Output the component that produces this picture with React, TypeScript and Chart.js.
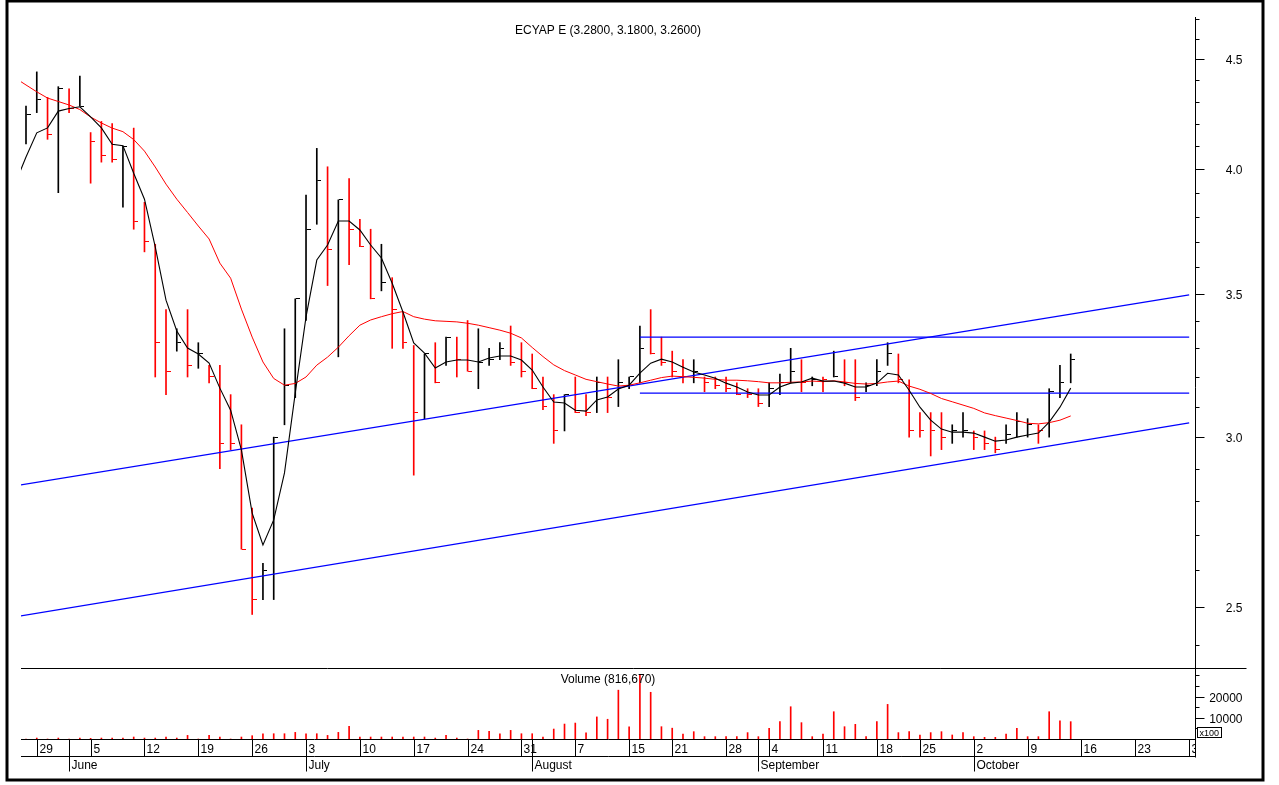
import React, { useEffect, useRef } from 'react';
import { Chart, registerables } from 'chart.js';

Chart.register(...registerables);

// ---------- data (trading-day index 0 = Fri 26 May 2006) ----------
const highs = [
  4.28, 4.44, 4.32, 4.37, 4.36, 4.42, 4.16, 4.21, 4.20, 4.10,
  4.18, 3.86, 3.69, 3.44, 3.37, 3.44, 3.32, 3.24, 3.24, 3.14,
  3.04, 2.78, 2.62, 3.00, 3.37, 3.48, 3.89, 4.09, 4.01, 3.87,
  3.96, 3.79, 3.75, 3.69, 3.56, 3.43, 3.31, 3.28, 3.32, 3.34,
  3.34, 3.40, 3.37, 3.30, 3.32, 3.38, 3.32, 3.28, 3.20, 3.14,
  3.14, 3.20, 3.14, 3.20, 3.20, 3.26, 3.20, 3.38, 3.44, 3.34,
  3.29, 3.26, 3.26, 3.20, 3.20, 3.20, 3.18, 3.16, 3.16, 3.18,
  3.21, 3.30, 3.26, 3.20, 3.20, 3.29, 3.26, 3.26, 3.18, 3.26,
  3.32, 3.28, 3.19, 3.08, 3.08, 3.08, 3.04, 3.08, 3.02, 3.02,
  3.00, 3.04, 3.08, 3.06, 3.04, 3.16, 3.24, 3.28,
];
const lows = [
  4.11, 4.25, 4.13, 3.90, 4.25, 4.28, 3.94, 4.03, 4.03, 3.84,
  3.75, 3.66, 3.20, 3.14, 3.29, 3.20, 3.23, 3.18, 2.90, 2.96,
  2.66, 2.48, 2.52, 2.52, 3.04, 3.13, 3.40, 3.77, 3.53, 3.27,
  3.61, 3.68, 3.48, 3.51, 3.30, 3.30, 2.88, 3.06, 3.18, 3.24,
  3.20, 3.22, 3.16, 3.24, 3.26, 3.24, 3.20, 3.16, 3.09, 2.98,
  3.02, 3.08, 3.07, 3.08, 3.08, 3.10, 3.16, 3.18, 3.28, 3.24,
  3.20, 3.18, 3.18, 3.15, 3.16, 3.15, 3.14, 3.13, 3.10, 3.10,
  3.14, 3.18, 3.15, 3.17, 3.15, 3.20, 3.17, 3.12, 3.15, 3.17,
  3.24, 3.18, 3.00, 3.00, 2.94, 2.96, 2.98, 3.00, 2.96, 2.96,
  2.95, 2.98, 3.00, 3.00, 2.98, 3.00, 3.13, 3.18,
];
const closes = [
  4.24, 4.31, 4.15, 4.36, 4.27, 4.28, 4.12, 4.06, 4.04, 4.10,
  3.78, 3.70, 3.32, 3.22, 3.32, 3.24, 3.28, 3.20, 2.98, 2.98,
  2.66, 2.52, 2.60, 3.00, 3.17, 3.48, 3.75, 3.95, 3.67, 3.87,
  3.75, 3.68, 3.48, 3.54, 3.44, 3.32, 3.08, 3.28, 3.18, 3.34,
  3.26, 3.22, 3.25, 3.26, 3.30, 3.25, 3.22, 3.16, 3.10, 3.02,
  3.14, 3.08, 3.08, 3.18, 3.13, 3.18, 3.20, 3.30, 3.28, 3.25,
  3.22, 3.20, 3.22, 3.18, 3.17, 3.16, 3.14, 3.14, 3.11, 3.16,
  3.18, 3.22, 3.18, 3.19, 3.19, 3.20, 3.18, 3.13, 3.17, 3.22,
  3.28, 3.19, 3.02, 3.02, 3.02, 3.00, 3.02, 3.02, 3.00, 2.98,
  2.96, 3.01, 3.05, 3.04, 3.02, 3.15, 3.18, 3.26,
];
// B = black (up) bar, R = red (down) bar
const barTone = [
  'B','B','R','B','R','B','R','R','R','B',
  'R','R','R','R','B','R','B','R','R','R',
  'R','R','B','B','B','B','B','B','R','B',
  'R','R','R','B','R','R','R','B','R','B',
  'R','R','B','B','B','R','R','R','R','R',
  'B','R','R','B','R','B','B','B','R','R',
  'R','R','B','R','R','R','R','R','R','B',
  'B','B','R','B','R','B','R','R','B','B',
  'B','R','R','R','R','R','B','B','R','R',
  'R','B','B','B','R','B','B','B',
];
// volume in hundreds of shares
const volumes = [
  0, 450, 0, 450, 0, 450, 300, 450, 450, 450,
  930, 450, 450, 930, 450, 1700, 0, 1700, 930, 0,
  930, 1550, 2490, 2490, 2490, 3120, 2490, 2490, 1700, 3120,
  5940, 930, 930, 930, 930, 930, 930, 930, 450, 1700,
  450, 0, 4060, 3590, 2490, 4060, 2490, 2490, 930, 4690,
  7040, 7510, 2900, 10400, 9300, 23000, 5700, 30300, 22000, 5800,
  5100, 2350, 3450, 1100, 1100, 1100, 1100, 3000, 1100, 5000,
  8150, 15200, 7700, 1100, 2350, 12850, 5800, 6900, 1100, 8150,
  16300, 3000, 3450, 1900, 3000, 3450, 1900, 3000, 1100, 800,
  800, 2350, 5000, 1100, 1100, 12850, 8600, 8167,
];
// moving averages, first value belongs to index -1
const maFast = [
  3.940, 4.052, 4.159, 4.181, 4.257, 4.269, 4.277, 4.231, 4.181, 4.108,
  4.102, 3.982, 3.873, 3.680, 3.475, 3.362, 3.301, 3.280, 3.248, 3.162,
  3.088, 2.959, 2.765, 2.672, 2.745, 2.887, 3.145, 3.413, 3.628, 3.687,
  3.783, 3.783, 3.747, 3.687, 3.636, 3.539, 3.431, 3.319, 3.283, 3.231,
  3.252, 3.259, 3.259, 3.252, 3.266, 3.273, 3.273, 3.259, 3.224, 3.166,
  3.115, 3.112, 3.088, 3.085, 3.122, 3.132, 3.159, 3.172, 3.213, 3.248,
  3.262, 3.252, 3.234, 3.217, 3.207, 3.196, 3.179, 3.166, 3.149, 3.139,
  3.139, 3.166, 3.179, 3.183, 3.196, 3.186, 3.186, 3.179, 3.166, 3.166,
  3.179, 3.213, 3.207, 3.155, 3.098, 3.055, 3.026, 3.016, 3.016, 3.013,
  3.000, 2.987, 2.991, 3.000, 3.007, 3.013, 3.049, 3.098, 3.162,
];
const maSlow = [
  4.411, 4.378, 4.346, 4.317, 4.301, 4.285, 4.264, 4.230, 4.203, 4.180,
  4.164, 4.129, 4.078, 4.009, 3.936, 3.873, 3.818, 3.763, 3.711, 3.616,
  3.558, 3.442, 3.340, 3.252, 3.195, 3.172, 3.178, 3.200, 3.241, 3.269,
  3.304, 3.345, 3.383, 3.402, 3.414, 3.425, 3.433, 3.414, 3.405, 3.399,
  3.397, 3.395, 3.390, 3.383, 3.374, 3.365, 3.354, 3.337, 3.303, 3.271,
  3.242, 3.222, 3.207, 3.192, 3.184, 3.176, 3.169, 3.172, 3.180, 3.189,
  3.198, 3.203, 3.201, 3.199, 3.196, 3.192, 3.189, 3.189, 3.187, 3.184,
  3.180, 3.180, 3.182, 3.183, 3.186, 3.184, 3.187, 3.183, 3.178, 3.176,
  3.178, 3.183, 3.186, 3.169, 3.158, 3.144, 3.127, 3.116, 3.105, 3.094,
  3.079, 3.070, 3.062, 3.054, 3.045, 3.043, 3.047, 3.055, 3.069,
];
// trend lines: [index, price] end points
const channelUpper = [[-1, 2.847], [108, 3.495]];
const channelLower = [[-1, 2.474], [108, 3.046]];
const resistanceLine = [[57, 3.34], [108, 3.34]];
const supportLine = [[57, 3.145], [108, 3.145]];

// axis labels
const weekLabels = ['29', '5', '12', '19', '26', '3', '10', '17', '24', '31', '7', '15', '21', '28', '4', '11', '18', '25', '2', '9', '16', '23', '30'];
const weekIndex = [1, 6, 11, 16, 21, 26, 31, 36, 41, 46, 51, 56, 60, 65, 69, 74, 79, 83, 88, 93, 98, 103, 108];
const monthLabels = ['June', 'July', 'August', 'September', 'October'];
const monthIndex = [4, 26, 47, 68, 88];
const priceLabelValues = [2.5, 3.0, 3.5, 4.0, 4.5];
const priceLabels = ['2.5', '3.0', '3.5', '4.0', '4.5'];
const priceMinorStart = 2.4;
const priceMinorEnd = 4.7;
const volLabelValues = [10000, 20000];
const volLabels = ['10000', '20000'];
const volMinorValues = [5000, 15000, 25000, 30000];
const titleText = 'ECYAP E (3.2800, 3.1800, 3.2600)';
const volumeTitle = 'Volume (816,670)';
const volUnitText = 'x100';
const volPaneTop = 33400;

const FONT = '12px "Liberation Sans", Arial, Helvetica, sans-serif';

const chromePlugin = {
  id: 'chrome',
  beforeDraw(chart: any) {
    const ctx = chart.ctx;
    ctx.save();
    ctx.fillStyle = '#ffffff';
    ctx.fillRect(0, 0, chart.width, chart.height);
    ctx.restore();
  },
  afterDraw(chart: any) {
    const ctx = chart.ctx;
    const a = chart.chartArea;
    const xs = chart.scales.x;
    const ys = chart.scales.y;
    const yv = chart.scales.yv;
    ctx.save();
    ctx.strokeStyle = '#000';
    ctx.fillStyle = '#000';
    ctx.lineWidth = 1;

    const sepY = Math.round(yv.getPixelForValue(volPaneTop)) + 0.5;
    const axisX = Math.round(a.right) + 0.5;
    const baseY = Math.round(a.bottom) + 0.5;
    const rowY = baseY + 17;

    // pane separator
    ctx.beginPath();
    ctx.moveTo(a.left, sepY);
    ctx.lineTo(axisX + 51, sepY);
    ctx.stroke();

    // right axis line
    ctx.beginPath();
    ctx.moveTo(axisX, a.top);
    ctx.lineTo(axisX, rowY + 1);
    ctx.stroke();

    // price ticks
    ctx.font = FONT;
    ctx.textAlign = 'right';
    ctx.textBaseline = 'middle';
    for (let k = Math.round(priceMinorStart * 10); k <= Math.round(priceMinorEnd * 10); k++) {
      const v = k / 10;
      const py = Math.round(ys.getPixelForValue(v)) + 0.5;
      if (py < a.top - 1 || py > sepY - 2) continue;
      const mi = priceLabelValues.findIndex((m) => Math.abs(m - v) < 1e-6);
      const len = mi >= 0 ? 9 : 4;
      ctx.beginPath();
      ctx.moveTo(axisX, py);
      ctx.lineTo(axisX + len, py);
      ctx.stroke();
      if (mi >= 0) ctx.fillText(priceLabels[mi], axisX + 47, py + 1);
    }

    // volume ticks
    volMinorValues.forEach((v) => {
      const py = Math.round(yv.getPixelForValue(v)) + 0.5;
      ctx.beginPath();
      ctx.moveTo(axisX, py);
      ctx.lineTo(axisX + 4, py);
      ctx.stroke();
    });
    volLabelValues.forEach((v, i) => {
      const py = Math.round(yv.getPixelForValue(v)) + 0.5;
      ctx.beginPath();
      ctx.moveTo(axisX, py);
      ctx.lineTo(axisX + 9, py);
      ctx.stroke();
      ctx.fillText(volLabels[i], axisX + 47, py + 1);
    });
    // x100 box
    const bx = axisX + 2, by = baseY - 12;
    ctx.fillStyle = '#fff';
    ctx.fillRect(bx, by, 24, 10);
    ctx.strokeRect(bx, by, 24, 10);
    ctx.fillStyle = '#000';
    ctx.font = '9px "Liberation Sans", Arial, sans-serif';
    ctx.textAlign = 'left';
    ctx.textBaseline = 'alphabetic';
    ctx.fillText(volUnitText, bx + 2, by + 8.5);

    // titles
    ctx.font = FONT;
    ctx.textAlign = 'center';
    ctx.textBaseline = 'alphabetic';
    const cx = (a.left + a.right) / 2;
    ctx.fillText(titleText, cx, a.top + 16.5);
    ctx.fillText(volumeTitle, cx, sepY + 14.5);

    // date axis rows
    ctx.beginPath();
    ctx.moveTo(a.left, baseY);
    ctx.lineTo(axisX, baseY);
    ctx.moveTo(a.left, rowY);
    ctx.lineTo(axisX, rowY);
    ctx.stroke();

    ctx.save();
    ctx.beginPath();
    ctx.rect(a.left, baseY - 1, axisX - a.left, 60);
    ctx.clip();
    ctx.textAlign = 'left';
    weekIndex.forEach((d, i) => {
      const px = Math.round(xs.getPixelForValue(d)) + 0.5;
      ctx.beginPath();
      ctx.moveTo(px, baseY);
      ctx.lineTo(px, rowY);
      ctx.stroke();
      ctx.fillText(weekLabels[i], px + 2, baseY + 13);
    });
    monthIndex.forEach((d, i) => {
      const px = Math.round(xs.getPixelForValue(d)) + 0.5;
      ctx.beginPath();
      ctx.moveTo(px, baseY);
      ctx.lineTo(px, rowY + 15);
      ctx.stroke();
      ctx.fillText(monthLabels[i], px + 2, rowY + 12);
    });
    ctx.restore();

    // outer frame
    ctx.lineWidth = 3;
    ctx.strokeRect(7, 1, 1256, 779);
    ctx.restore();
  },
};

function makeTick(color: string) {
  const c = document.createElement('canvas');
  c.width = 9;
  c.height = 1;
  const g = c.getContext('2d')!;
  g.fillStyle = color;
  g.fillRect(5, 0, 4, 1);
  return c;
}

export default function App() {
  const ref = useRef<HTMLCanvasElement | null>(null);
  useEffect(() => {
    document.body.style.margin = '0';
    const canvas = ref.current!;
    const red = '#ff0000';
    const black = '#000000';
    const tickRed = makeTick(red);
    const tickBlack = makeTick(black);
    const toneColor = barTone.map((t) => (t === 'B' ? black : red));
    const idx = highs.map((_, i) => i);
    const pair = (pts: number[][]) => pts.map(([x, y]) => ({ x, y }));

    const chart = new Chart(canvas, {
      type: 'bar',
      data: {
        datasets: [
          {
            type: 'line',
            data: maFast.map((v, i) => ({ x: i - 1, y: v })),
            borderColor: black,
            borderWidth: 1.1,
            pointRadius: 0,
            tension: 0,
            yAxisID: 'y',
          },
          {
            type: 'line',
            data: maSlow.map((v, i) => ({ x: i - 1, y: v })),
            borderColor: red,
            borderWidth: 1,
            pointRadius: 0,
            tension: 0,
            yAxisID: 'y',
          },
          ...[channelUpper, channelLower, resistanceLine, supportLine].map((pts) => ({
            type: 'line',
            data: pair(pts),
            borderColor: '#0000ff',
            borderWidth: 1.2,
            pointRadius: 0,
            tension: 0,
            yAxisID: 'y',
          })),
          {
            type: 'line',
            data: idx.map((i) => ({ x: i, y: closes[i] })),
            showLine: false,
            pointRadius: 3,
            pointStyle: barTone.map((t) => (t === 'B' ? tickBlack : tickRed)),
            yAxisID: 'y',
          },
          {
            type: 'bar',
            data: idx.map((i) => ({ x: i, y: [lows[i], highs[i]] })),
            backgroundColor: toneColor,
            borderWidth: 0,
            barThickness: 1,
            grouped: false,
            yAxisID: 'y',
          },
          {
            type: 'bar',
            data: idx.map((i) => ({ x: i, y: volumes[i] })),
            backgroundColor: red,
            borderWidth: 0,
            barThickness: 1,
            grouped: false,
            yAxisID: 'yv',
          },
        ] as any,
      },
      options: {
        animation: false,
        responsive: false,
        events: [],
        layout: { padding: { left: 21, right: 84, top: 17, bottom: 46 } },
        plugins: {
          legend: { display: false },
          tooltip: { enabled: false },
          title: { display: false },
        },
        scales: {
          x: { type: 'linear', min: -0.4643, max: 108.54, display: false, bounds: 'data', offset: false },
          y: { type: 'logarithmic', min: 2.1697, max: 4.7094, display: false, bounds: 'data' },
          yv: { type: 'linear', min: 0, max: 340000, display: false, bounds: 'data' },
        },
      } as any,
      plugins: [chromePlugin],
    });
    return () => chart.destroy();
  }, []);

  return (
    <canvas
      ref={ref}
      width={1279}
      height={785}
      style={{ display: 'block', position: 'fixed', left: 0, top: 0, width: 1279, height: 785 }}
    />
  );
}
